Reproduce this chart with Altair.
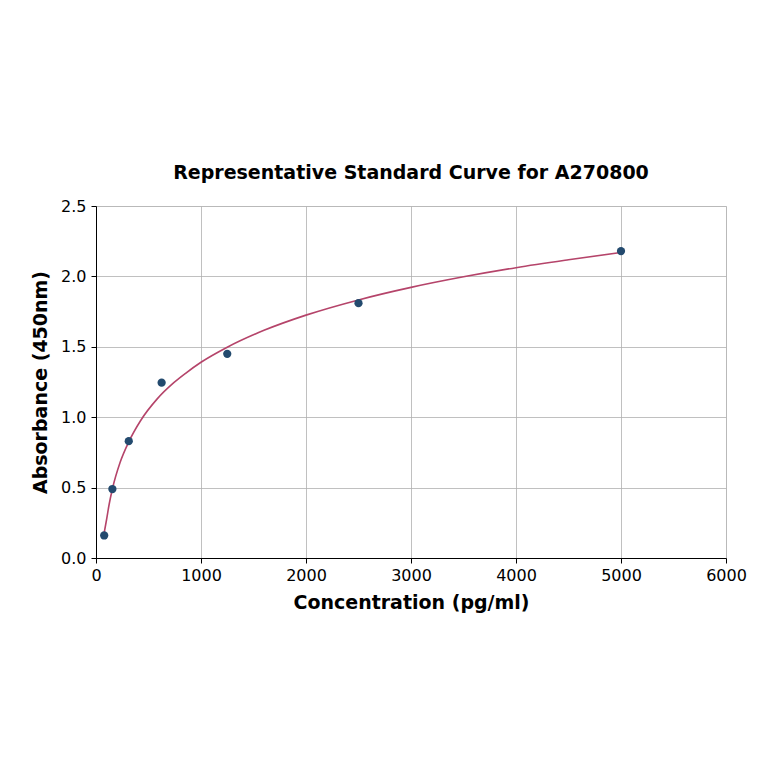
import altair as alt
import pandas as pd

# Standard points
conc = [78, 156, 312, 625, 1250, 2500, 5000]
absorb = [0.16, 0.49, 0.83, 1.245, 1.45, 1.81, 2.18]

# Fitted curve
curve_x = [74, 100, 125, 156, 230, 312, 424, 583, 741, 850, 1000, 1250, 1600, 2000, 2500, 3000, 3500, 4000, 4500, 5000]
curve_y = [0.163, 0.27, 0.38, 0.49, 0.68, 0.825, 0.975, 1.13, 1.245, 1.31, 1.39, 1.497, 1.617, 1.725, 1.833, 1.922, 1.997, 2.062, 2.118, 2.17]

pts = pd.DataFrame({"x": conc, "y": absorb})
crv = pd.DataFrame({"x": curve_x, "y": curve_y})

xscale = alt.Scale(domain=[0, 6000], nice=False)
yscale = alt.Scale(domain=[0, 2.5], nice=False)

common = dict(labelFontSize=16, titleFontSize=19, titleFontWeight="bold",
              tickSize=5, domainColor="black", tickColor="black",
              labelColor="black", titleColor="black", labelFlush=False,
              gridColor="#b0b0b0", gridWidth=0.8,
              labelFont="DejaVu Sans", titleFont="DejaVu Sans")
xaxis = alt.Axis(title="Concentration (pg/ml)", values=[0, 1000, 2000, 3000, 4000, 5000, 6000],
                 format="d", titlePadding=10, labelPadding=4, **common)
yaxis = alt.Axis(title="Absorbance (450nm)", values=[0, 0.5, 1.0, 1.5, 2.0, 2.5],
                 format=".1f", titlePadding=10, labelPadding=5, **common)

line = alt.Chart(crv).mark_line(color="#b5446a", strokeWidth=1.6, interpolate="monotone").encode(
    x=alt.X("x:Q", scale=xscale, axis=xaxis),
    y=alt.Y("y:Q", scale=yscale, axis=yaxis),
)
points = alt.Chart(pts).mark_circle(color="#234a6e", size=68, opacity=1).encode(
    x=alt.X("x:Q", scale=xscale, axis=xaxis),
    y=alt.Y("y:Q", scale=yscale, axis=yaxis),
)

chart = alt.layer(line, points).properties(
    width=630, height=352,
    title=alt.TitleParams("Representative Standard Curve for A270800", fontSize=19,
                          fontWeight="bold", font="DejaVu Sans", color="black", offset=15),
    autosize=alt.AutoSizeParams(type="none"),
    padding={"left": 88, "top": 198, "right": 30, "bottom": 190},
).configure_view(stroke="black", strokeWidth=1).configure(background="white")

chart.save("out.html", embed_options={"renderer": "svg", "actions": False})
